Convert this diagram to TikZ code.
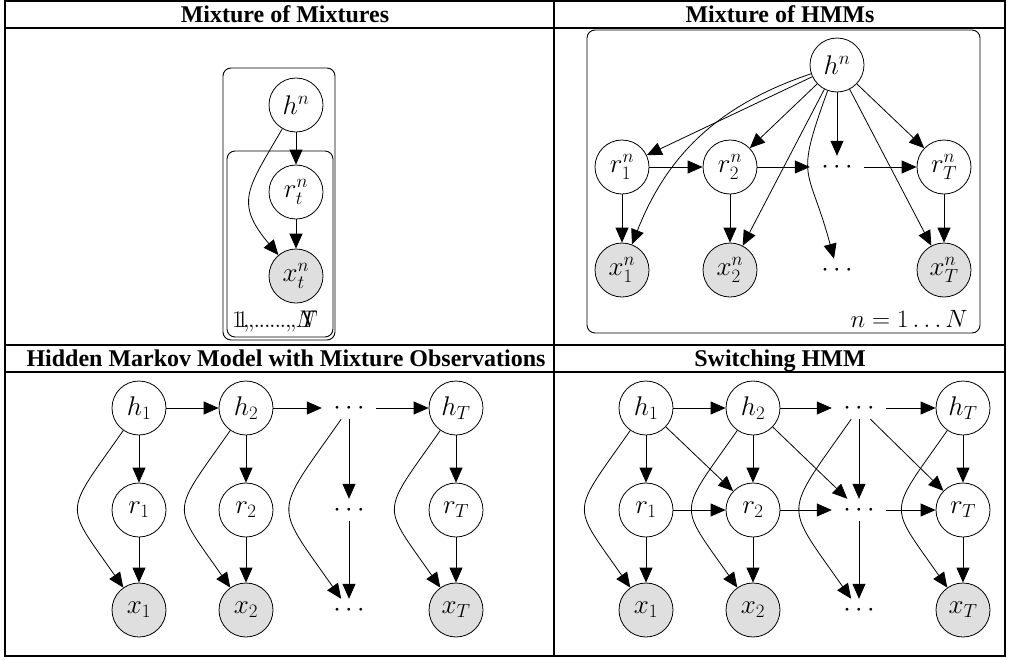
\RequirePackage{fix-cm}
\documentclass[tikz,border=0pt]{standalone}
\usepackage{fontspec}
\setmainfont{Liberation Serif}
\usetikzlibrary{arrows.meta}

\begin{document}
\begin{tikzpicture}[x=1pt,y=-1pt,
  latent/.style={circle,draw,line width=0.8pt,minimum size=54pt,inner sep=0pt,
                 font=\fontsize{27}{30}\selectfont},
  obs/.style={latent,fill=gray!25},
  gap/.style={rectangle,minimum width=54pt,minimum height=22pt,inner sep=0pt,
              font=\fontsize{27}{30}\selectfont},
  edge/.style={-{Triangle[length=15pt,width=13pt]},line width=0.8pt},
  plate/.style={draw,rounded corners=8pt,line width=0.9pt},
  platelabel/.style={anchor=base west,inner sep=0pt,font=\fontsize{24}{28}\selectfont},
  rule/.style={line width=1.2pt},
  head/.style={anchor=base,inner sep=0pt,font=\fontsize{24}{28}\selectfont\bfseries},
  mixcurve/.style={edge,out=-125,in=125,looseness=1.7}
]
\useasboundingbox (0,0) rectangle (1009,659);

% table frame
\draw[rule] (5,1) rectangle (1005,656);
\draw[rule] (5,28) -- (1005,28);
\draw[rule] (5,345) -- (1005,345);
\draw[rule] (5,372) -- (1005,372);
\draw[rule] (554,1) -- (554,656);

% column headings
\node[head] (t1) at (285,22) {Mixture of Mixtures};
\node[head] (t2) at (780,22) {Mixture of HMMs};
\node[head] (t3) at (286,366) {Hidden Markov Model with Mixture Observations};
\node[head] (t4) at (780,366) {Switching HMM};

% ---------- mixture of mixtures ----------
\draw[plate] (223,68) rectangle (335,340);
\draw[plate] (227,151) rectangle (333,337);
\node[platelabel] (lN) at (232,327) {$1,\ldots,N$};
\node[platelabel] (lT) at (237,327) {$1,\ldots,T$};
\node[latent] (h) at (296,105) {$h^n$};
\node[latent] (r) at (296,192) {$r^n_t$};
\node[obs] (x) at (296,276) {$x^n_t$};
\draw[edge] (h) -- (r);
\draw[edge] (r) -- (x);
\draw[edge] (h) to[out=-120,in=130,looseness=1.4] (x);

% ---------- mixture of HMMs ----------
\draw[plate] (587,30) rectangle (980,333);
\node[anchor=base east,inner sep=0pt,font=\fontsize{25}{28}\selectfont] (lm) at (968,327) {$n = 1\ldots N$};
\node[latent] (mh) at (837,65) {$h^n$};
\node[latent] (mr1) at (622,167) {$r^n_1$};
\node[latent] (mr2) at (730,167) {$r^n_2$};
\node[gap] (mrd) at (837,167) {$\cdots$};
\node[latent] (mrT) at (944,167) {$r^n_T$};
\node[obs] (mx1) at (622,270) {$x^n_1$};
\node[obs] (mx2) at (730,270) {$x^n_2$};
\node[gap] (mxd) at (837,270) {$\cdots$};
\node[obs] (mxT) at (944,270) {$x^n_T$};
\draw[edge] (mh) -- (mr1);
\draw[edge] (mh) -- (mr2);
\draw[edge] (mh) -- (mrd);
\draw[edge] (mh) -- (mrT);
\draw[edge] (mh) -- (mx2);
\draw[edge] (mh) -- (mxT);
\draw[edge] (mh) to[bend right=25] (mx1);
\draw[edge] (mh) to[out=-110,in=105,looseness=1.5] (mxd);
\draw[edge] (mr1) -- (mr2);
\draw[edge] (mr2) -- (mrd);
\draw[edge] (mrd) -- (mrT);
\draw[edge] (mr1) -- (mx1);
\draw[edge] (mr2) -- (mx2);
\draw[edge] (mrT) -- (mxT);

% ---------- HMM with mixture observations ----------
\node[latent] (ah1) at (139,408) {$h_1$};
\node[latent] (ah2) at (246,408) {$h_2$};
\node[gap] (ahd) at (349,408) {$\cdots$};
\node[latent] (ahT) at (456,408) {$h_T$};
\node[latent] (ar1) at (139,510) {$r_1$};
\node[latent] (ar2) at (246,510) {$r_2$};
\node[gap] (ard) at (349,510) {$\cdots$};
\node[latent] (arT) at (456,510) {$r_T$};
\node[obs] (ax1) at (139,610) {$x_1$};
\node[obs] (ax2) at (246,610) {$x_2$};
\node[gap] (axd) at (349,610) {$\cdots$};
\node[obs] (axT) at (456,610) {$x_T$};
\draw[edge] (ah1) -- (ah2);
\draw[edge] (ah2) -- (ahd);
\draw[edge] (ahd) -- (ahT);
\foreach \c in {1,2,d,T}{
  \draw[edge] (ah\c) -- (ar\c);
  \draw[edge] (ar\c) -- (ax\c);
  \draw[mixcurve] (ah\c) to (ax\c);
}

% ---------- switching HMM ----------
\node[latent] (sh1) at (646,408) {$h_1$};
\node[latent] (sh2) at (753,408) {$h_2$};
\node[gap] (shd) at (859,408) {$\cdots$};
\node[latent] (shT) at (963,408) {$h_T$};
\node[latent] (sr1) at (646,510) {$r_1$};
\node[latent] (sr2) at (753,510) {$r_2$};
\node[gap] (srd) at (859,510) {$\cdots$};
\node[latent] (srT) at (963,510) {$r_T$};
\node[obs] (sx1) at (646,610) {$x_1$};
\node[obs] (sx2) at (753,610) {$x_2$};
\node[gap] (sxd) at (859,610) {$\cdots$};
\node[obs] (sxT) at (963,610) {$x_T$};
\draw[edge] (sh1) -- (sh2);
\draw[edge] (sh2) -- (shd);
\draw[edge] (shd) -- (shT);
\draw[edge] (sr1) -- (sr2);
\draw[edge] (sr2) -- (srd);
\draw[edge] (srd) -- (srT);
\draw[edge] (sh1) -- (sr2);
\draw[edge] (sh2) -- (srd);
\draw[edge] (shd) -- (srT);
\foreach \c in {1,2,d,T}{
  \draw[edge] (sh\c) -- (sr\c);
  \draw[edge] (sr\c) -- (sx\c);
  \draw[mixcurve] (sh\c) to (sx\c);
}
\end{tikzpicture}
\end{document}
